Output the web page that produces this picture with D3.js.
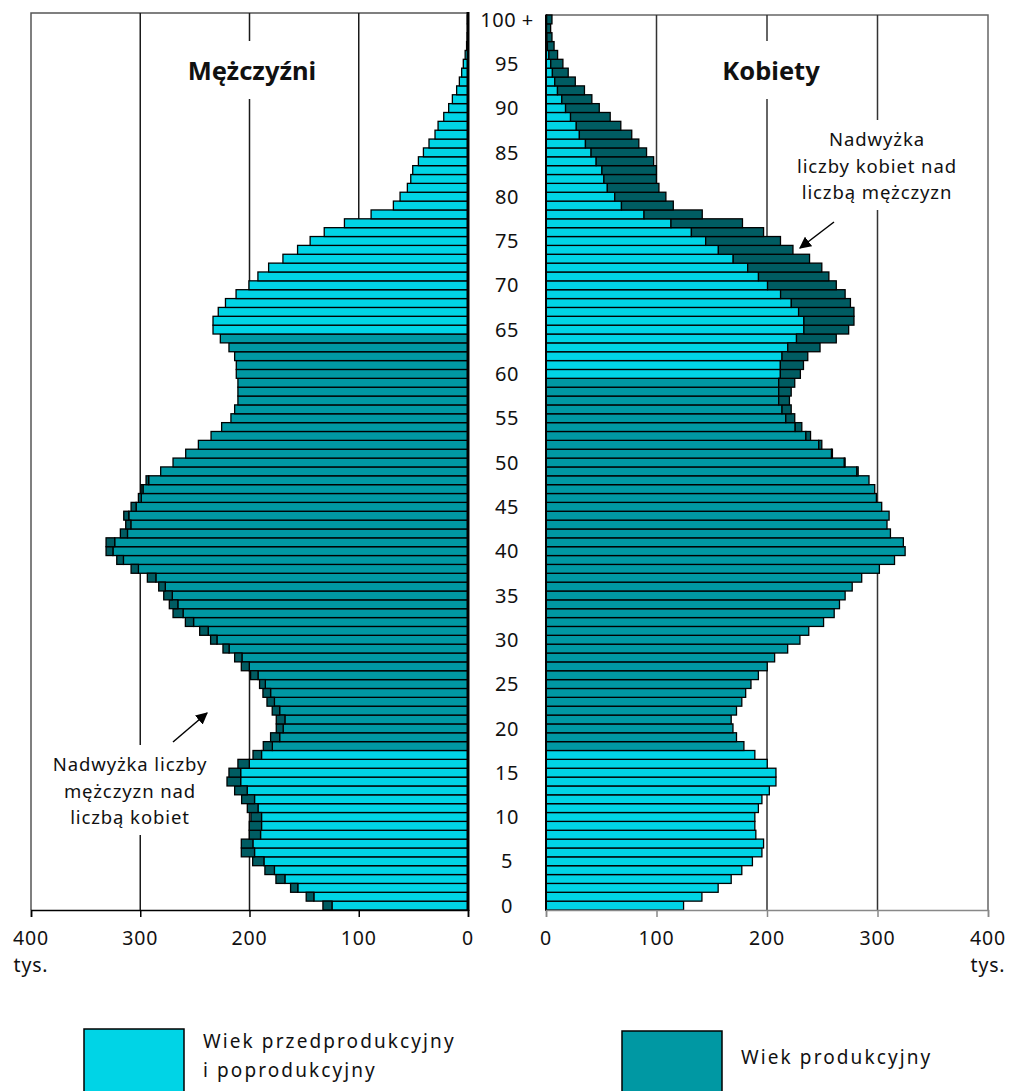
<!DOCTYPE html>
<html>
<head>
<meta charset="utf-8">
<script src="https://cdn.jsdelivr.net/npm/d3@7"></script>
<style>
  body { margin: 0; background: #fff; }
  text { font-family: "Noto Sans", "DejaVu Sans", sans-serif; fill: #111; }
</style>
</head>
<body>
<div id="wrapper"></div>
<script>
// ages 0 .. 100+ (last one is the open group)
const ages = d3.range(0, 101);
const ageTicks = [0, 5, 10, 15, 20, 25, 30, 35, 40, 45, 50, 55, 60, 65, 70, 75, 80, 85, 90, 95, 100];
const ageTickLabels = ["0", "5", "10", "15", "20", "25", "30", "35", "40", "45", "50",
  "55", "60", "65", "70", "75", "80", "85", "90", "95", "100 +"];
const valueTicks = [0, 100, 200, 300, 400];

// population in thousands, index = age
const men = [
  132.8, 148.1, 162.4, 175.8, 185.9, 197.1, 207.5, 207.5, 200.2, 200.2,
  198.7, 202.0, 207.2, 213.6, 220.6, 218.8, 210.6, 196.8, 187.4, 180.7,
  175.5, 175.5, 179.2, 184.0, 187.7, 190.8, 199.0, 207.5, 213.6, 224.3,
  235.6, 245.6, 258.7, 270.0, 273.4, 278.5, 283.1, 293.5, 308.4, 321.5,
  331.3, 331.3, 318.2, 313.3, 315.1, 308.4, 301.7, 299.3, 294.7, 281.3,
  270.0, 258.4, 246.8, 235.2, 225.5, 217.0, 213.6, 210.6, 210.6, 210.6,
  212.1, 212.1, 213.6, 218.8, 226.7, 233.4, 233.4, 228.6, 222.0, 212.3,
  200.5, 192.3, 182.5, 169.4, 156.0, 144.5, 131.6, 113.1, 88.7, 68.3,
  62.2, 55.5, 52.4, 50.6, 45.4, 40.8, 35.7, 30.2, 27.4, 22.2,
  17.7, 14.3, 10.4, 7.9, 5.8, 4.3, 2.6, 1.3, 0.8, 0.5,
  0.6
];
const women = [
  124.5, 141.1, 155.8, 167.6, 177.2, 186.8, 195.4, 196.9, 189.9, 189.0,
  189.0, 192.2, 195.4, 202.1, 208.1, 208.1, 200.2, 189.0, 179.1, 172.4,
  169.2, 167.6, 172.4, 177.2, 180.7, 185.5, 192.2, 200.2, 206.9, 218.7,
  229.8, 237.8, 251.2, 260.8, 265.6, 270.7, 277.1, 285.7, 301.7, 315.4,
  325.0, 323.4, 311.7, 308.6, 310.5, 303.8, 299.0, 297.5, 292.3, 282.5,
  270.7, 259.2, 249.6, 239.4, 231.5, 225.1, 221.9, 220.3, 221.9, 225.1,
  230.2, 233.0, 236.9, 248.0, 262.7, 273.9, 278.7, 278.7, 275.5, 270.7,
  262.7, 256.0, 249.6, 238.5, 223.5, 212.2, 196.9, 177.8, 141.4, 115.2,
  108.5, 102.2, 99.9, 99.9, 97.4, 91.0, 84.0, 77.6, 67.7, 58.1,
  48.2, 41.5, 34.8, 26.5, 20.1, 15.3, 10.5, 7.3, 5.4, 4.2,
  5.4
];

// productive age: men 18-64, women 18-59
const menWorkAge = [18, 64];
const womenWorkAge = [18, 59];

const colorNonWork = "#00d4e6";
const colorWork = "#0098a3";
const colorSurplus = "#005c62";

const width = 1012, height = 1091;
const svg = d3.select("#wrapper").append("svg")
  .attr("width", width)
  .attr("height", height);

const y = d3.scaleBand()
  .domain(ages)
  .range([910, 15]);

const xMen = d3.scaleLinear().domain([0, 400]).range([468, 31]);
const xWomen = d3.scaleLinear().domain([0, 400]).range([546, 988]);

const gridG = svg.append("g");
const barG = svg.append("g");
const labelG = svg.append("g");

// frames + grid
gridG.append("path")
  .attr("d", `M${xMen(0)},13H${xMen(400)}V910`)
  .attr("fill", "none").attr("stroke", "#555").attr("stroke-width", 1.5);
gridG.append("path")
  .attr("d", `M${xWomen(0)},15H${xWomen(400)}V910`)
  .attr("fill", "none").attr("stroke", "#666").attr("stroke-width", 1.5);

gridG.selectAll(".gl-men")
  .data([100, 200, 300])
  .join("line")
  .attr("x1", d => xMen(d)).attr("x2", d => xMen(d))
  .attr("y1", 13).attr("y2", 910)
  .attr("stroke", "#1a1a1a").attr("stroke-width", 1.5);
gridG.selectAll(".gl-women")
  .data([100, 200, 300])
  .join("line")
  .attr("x1", d => xWomen(d)).attr("x2", d => xWomen(d))
  .attr("y1", 15).attr("y2", 910)
  .attr("stroke", "#333").attr("stroke-width", 1.5);

// bars
const bh = y.bandwidth();
const menRows = ages.map(a => ({
  age: a, v: men[a], other: women[a],
  work: a >= menWorkAge[0] && a <= menWorkAge[1]
}));
const womenRows = ages.map(a => ({
  age: a, v: women[a], other: men[a],
  work: a >= womenWorkAge[0] && a <= womenWorkAge[1]
}));

function drawSide(rows, x, left) {
  const g = barG.append("g");
  // main part (up to the smaller of both sexes)
  g.selectAll(".base")
    .data(rows)
    .join("rect")
    .attr("x", d => left ? x(Math.min(d.v, d.other)) : x(0))
    .attr("y", d => y(d.age))
    .attr("width", d => Math.abs(x(Math.min(d.v, d.other)) - x(0)))
    .attr("height", bh)
    .attr("fill", d => d.work ? colorWork : colorNonWork)
    .attr("stroke", "#000").attr("stroke-width", 1.3);
  // surplus over the other sex
  g.selectAll(".surplus")
    .data(rows.filter(d => d.v > d.other))
    .join("rect")
    .attr("x", d => left ? x(d.v) : x(d.other))
    .attr("y", d => y(d.age))
    .attr("width", d => Math.abs(x(d.v) - x(d.other)))
    .attr("height", bh)
    .attr("fill", colorSurplus)
    .attr("stroke", "#000").attr("stroke-width", 1.3);
}
drawSide(menRows, xMen, true);
drawSide(womenRows, xWomen, false);

// centre axes
svg.append("line")
  .attr("x1", xMen(0)).attr("x2", xMen(0)).attr("y1", 12).attr("y2", 911)
  .attr("stroke", "#000").attr("stroke-width", 3);
svg.append("line")
  .attr("x1", xWomen(0)).attr("x2", xWomen(0)).attr("y1", 15).attr("y2", 911)
  .attr("stroke", "#000").attr("stroke-width", 2);

// bottom axes
const axMen = svg.append("g")
  .attr("transform", "translate(0,910)")
  .call(d3.axisBottom(xMen).tickValues(valueTicks).tickSize(7).tickFormat(""));
axMen.select(".domain").attr("stroke", "#000").attr("stroke-width", 1.5);
axMen.selectAll(".tick line").attr("stroke", "#000").attr("stroke-width", 1.5);

const axWomen = svg.append("g")
  .attr("transform", "translate(0,910)")
  .call(d3.axisBottom(xWomen).tickValues(valueTicks).tickSize(7).tickFormat(""));
axWomen.select(".domain").attr("stroke", "#888").attr("stroke-width", 1.5);
axWomen.selectAll(".tick line").attr("stroke", "#888").attr("stroke-width", 1.5);

// value labels; the unit sits under the 400 label
function valueLabels(x) {
  const g = labelG.append("g")
    .attr("font-size", 19.5)
    .attr("letter-spacing", 0.8)
    .attr("text-anchor", "middle");
  g.selectAll("text")
    .data(valueTicks)
    .join("text")
    .attr("x", d => x(d)).attr("y", 945)
    .text(d => d);
  g.append("text")
    .attr("x", x(400)).attr("y", 972)
    .text("tys.");
}
valueLabels(xMen);
valueLabels(xWomen);

// age labels in the middle
labelG.selectAll(".age")
  .data(ageTicks)
  .join("text")
  .attr("x", 507)
  .attr("y", d => y(d) + bh / 2)
  .attr("dy", "0.36em")
  .attr("font-size", 20)
  .attr("letter-spacing", 0.5)
  .attr("text-anchor", "middle")
  .text((d, i) => ageTickLabels[i]);

// texts with a white box behind them (cuts the grid lines)
function boxedText(lines, cx, y0, lh, size, weight, spacing, pad) {
  const g = labelG.append("g");
  const bg = g.append("rect").attr("fill", "#fff");
  const t = g.append("text")
    .attr("text-anchor", "middle")
    .attr("font-size", size)
    .attr("font-weight", weight)
    .attr("letter-spacing", spacing);
  lines.forEach((l, i) => t.append("tspan").attr("x", cx).attr("y", y0 + i * lh).text(l));
  const b = t.node().getBBox();
  bg.attr("x", b.x - pad[0]).attr("y", b.y - pad[1])
    .attr("width", b.width + 2 * pad[0]).attr("height", b.height + 2 * pad[1]);
}
boxedText(["Mężczyźni"], 252, 80, 0, 25.5, 700, 0, [6, 12]);
boxedText(["Kobiety"], 771, 80, 0, 25.5, 700, 0, [6, 12]);
boxedText(["Nadwyżka", "liczby kobiet nad", "liczbą mężczyzn"], 877, 146, 26.5, 18.5, 400, 0.9, [4, 6]);
boxedText(["Nadwyżka liczby", "mężczyzn nad", "liczbą kobiet"], 130, 771, 26.5, 18.5, 400, 0.9, [4, 6]);

// arrows
svg.append("defs").append("marker")
  .attr("id", "head")
  .attr("viewBox", "0 0 10 10")
  .attr("refX", 9).attr("refY", 5)
  .attr("markerWidth", 12).attr("markerHeight", 12)
  .attr("markerUnits", "userSpaceOnUse")
  .attr("orient", "auto")
  .append("path").attr("d", "M0,0L10,5L0,10Z").attr("fill", "#000");
labelG.append("line")
  .attr("x1", 834).attr("y1", 222).attr("x2", 800).attr("y2", 248)
  .attr("stroke", "#000").attr("stroke-width", 1.5).attr("marker-end", "url(#head)");
labelG.append("line")
  .attr("x1", 173).attr("y1", 742).attr("x2", 207).attr("y2", 713)
  .attr("stroke", "#000").attr("stroke-width", 1.5).attr("marker-end", "url(#head)");

// legend
const legend = [
  { color: colorNonWork, x: 84, y: 1029, lines: ["Wiek przedprodukcyjny", "i poprodukcyjny"], ty: 1048 },
  { color: colorWork, x: 622, y: 1031, lines: ["Wiek produkcyjny"], ty: 1064 }
];
const lg = svg.selectAll(".legend")
  .data(legend)
  .join("g");
lg.append("rect")
  .attr("x", d => d.x).attr("y", d => d.y)
  .attr("width", 100).attr("height", 80)
  .attr("fill", d => d.color)
  .attr("stroke", "#000").attr("stroke-width", 1.5);
lg.append("text")
  .attr("font-size", 19)
  .attr("letter-spacing", 2.1)
  .each(function(d) {
    d3.select(this).selectAll("tspan")
      .data(d.lines)
      .join("tspan")
      .attr("x", d.x + 119)
      .attr("y", (l, i) => d.ty + i * 29)
      .text(l => l);
  });
</script>
</body>
</html>
